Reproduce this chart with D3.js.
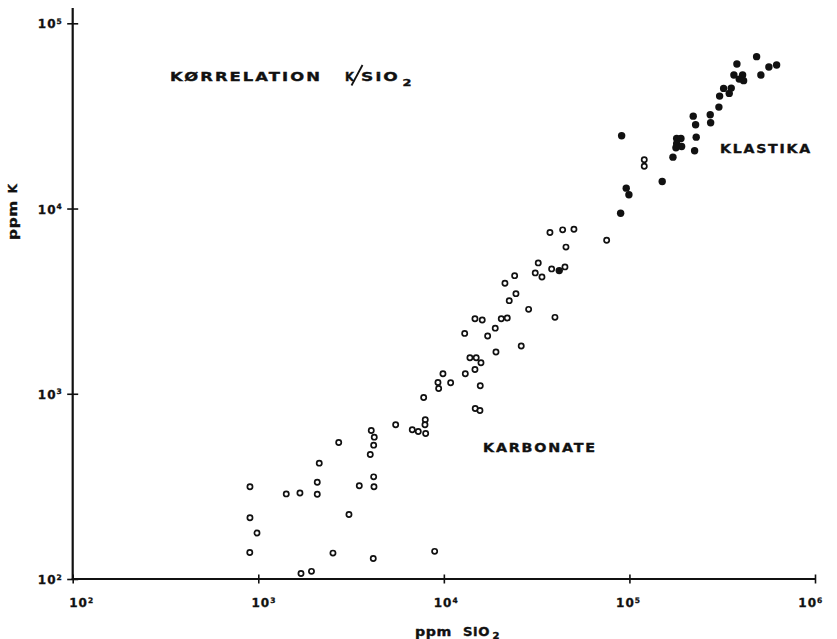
<!DOCTYPE html>
<html>
<head>
<meta charset="utf-8">
<script src="https://cdn.jsdelivr.net/npm/d3@7"></script>
<style>
  html, body { margin: 0; padding: 0; background: #fff; }
  svg { display: block; }
  text { font-family: "DejaVu Sans", sans-serif; font-weight: bold; fill: #111; }
</style>
</head>
<body>
<div id="chart"></div>
<script>
// --- Data (ppm SiO2, ppm K) ---
// Karbonate: open circles
const karbonateSiO2 = [
  902, 902, 984, 900, 1415, 1677, 1699, 1935, 2526, 4165,
  2131, 2079, 2079, 3502, 4186, 4202, 3081, 2713,
  4063, 4217, 4186, 4013, 5500, 6757, 7280, 7980, 7940, 7911, 7785, 8921,
  9295, 9376, 9890, 10880, 13050, 14760, 15650, 15710, 14710, 13820, 14940, 15850,
  12950, 17220, 18920, 19090, 26120, 14710, 16100, 20390, 21960, 22510, 28630, 39690,
  24460, 21340, 24070, 31080, 33780, 38090, 44930, 32260, 45500, 37300, 43670, 50230,
  75390, 120200, 120200
];
const karbonateK = [
  315, 214, 177, 139, 288, 291, 107, 110, 138, 129,
  422, 333, 287, 319, 356, 315, 223, 546,
  633, 583, 528, 470, 680, 639, 626, 610, 724, 680, 955, 141,
  1151, 1068, 1283, 1147, 1283, 833, 812, 1105, 1353, 1565, 1565, 1471,
  2118, 2051, 2260, 1681, 1810, 2543, 2502, 2543, 2566, 3182, 2856, 2585,
  3472, 3947, 4343, 4492, 4273, 4722, 4841, 5088, 6193, 7419, 7673, 7730,
  6740, 18340, 16930
];

// Klastika: filled circles
const klastikaSiO2 = [
  41860, 89660, 90780, 96120, 99380, 150200, 171600,
  179700, 189500, 179700, 191100, 178100,
  224500, 229000, 227300, 220700, 272500, 273900,
  303500, 306200, 321800, 345000, 353700, 365600, 379500,
  407300, 390500, 412400, 484500, 510900, 564300, 621000
];
const klastikaK = [
  4623, 9433, 24720, 12880, 11860, 13990, 18940,
  23900, 23900, 22370, 21630, 21280,
  20510, 24290, 28340, 31540, 32100, 29060,
  35290, 40460, 44520, 41840, 44690, 52550, 60260,
  52550, 49990, 49010, 66070, 52550, 58050, 59510
];

// Axis ticks (powers of ten)
const xTickExps = [2, 3, 4, 5, 6];
const yTickExps = [2, 3, 4, 5];

// --- Setup ---
const W = 837, H = 639;
const svg = d3.select("#chart").append("svg")
  .attr("width", W).attr("height", H);

const x = d3.scaleLog().domain([1e2, 1e6]).range([72.7, 815]);
const y = d3.scaleLog().domain([1e2, 1e5]).range([579, 23.3]);

const axisColor = "#111";

// writes "10" + raised exponent into a tick text
function powerLabel(t, exp) {
  t.text(null)
    .attr("font-size", 12)
    .attr("letter-spacing", 1)
    .attr("stroke", "#111").attr("stroke-width", 0.3);
  t.append("tspan").text("10");
  t.append("tspan").attr("dy", -4.5).attr("font-size", 7.5).text(exp);
}

// x axis
const xAxis = svg.append("g")
  .attr("transform", `translate(0,${y(1e2)})`)
  .call(d3.axisBottom(x)
    .tickValues(xTickExps.map(e => Math.pow(10, e)))
    .tickSize(4.5)
    .tickSizeOuter(0)
    .tickFormat(""));
xAxis.select(".domain").remove();
xAxis.selectAll(".tick line")
  .attr("y1", -4.5).attr("y2", 4.5)
  .attr("stroke", axisColor).attr("stroke-width", 1.6);
xAxis.selectAll(".tick text").each(function(d, i) {
  const t = d3.select(this)
    .attr("y", 28).attr("dy", null)
    .attr("x", -4 - 3.3 * i)
    .attr("text-anchor", "start");
  powerLabel(t, xTickExps[i]);
});

// y axis
const yAxis = svg.append("g")
  .attr("transform", `translate(${x(1e2)},0)`)
  .call(d3.axisLeft(y)
    .tickValues(yTickExps.map(e => Math.pow(10, e)))
    .tickSize(5.5)
    .tickSizeOuter(0)
    .tickFormat(""));
yAxis.select(".domain").remove();
yAxis.selectAll(".tick line")
  .attr("x1", -5.5).attr("x2", 5.5)
  .attr("stroke", axisColor).attr("stroke-width", 1.6);
yAxis.selectAll(".tick text").each(function(d, i) {
  const t = d3.select(this)
    .attr("x", -10).attr("dy", null).attr("y", 4.5)
    .attr("text-anchor", "end");
  powerLabel(t, yTickExps[i]);
});

// axis lines
svg.append("line")
  .attr("x1", x(1e2) - 1).attr("x2", x(1e6))
  .attr("y1", y(1e2)).attr("y2", y(1e2))
  .attr("stroke", axisColor).attr("stroke-width", 2.2);
svg.append("line")
  .attr("x1", x(1e2)).attr("x2", x(1e2))
  .attr("y1", y(1e2) + 1).attr("y2", 8)
  .attr("stroke", axisColor).attr("stroke-width", 2.2);

// --- Points ---
const karbonate = karbonateSiO2.map((v, i) => ({ sio2: v, k: karbonateK[i] }));
const klastika = klastikaSiO2.map((v, i) => ({ sio2: v, k: klastikaK[i] }));

svg.append("g").selectAll("circle")
  .data(karbonate)
  .join("circle")
  .attr("cx", d => x(d.sio2))
  .attr("cy", d => y(d.k))
  .attr("r", 2.6)
  .attr("fill", "#fff")
  .attr("stroke", "#111")
  .attr("stroke-width", 1.7);

svg.append("g").selectAll("circle")
  .data(klastika)
  .join("circle")
  .attr("cx", d => x(d.sio2))
  .attr("cy", d => y(d.k))
  .attr("r", 3.7)
  .attr("fill", "#111");

// --- Labels ---
// stretches a text horizontally so that it spans len pixels (wide lettering look)
function label(txt, px, py, len, size, ls, rot) {
  const t = svg.append("text")
    .attr("font-size", size || 12)
    .attr("letter-spacing", ls == null ? 1.5 : ls)
    .attr("stroke", "#111").attr("stroke-width", 0.35)
    .text(txt);
  const w = t.node().getComputedTextLength();
  t.attr("transform", `translate(${px},${py})${rot ? " rotate(" + rot + ")" : ""} scale(${len / w},1)`);
  return t;
}

// title
label("KØRRELATION", 170, 80.5, 152);
label("K", 345, 80.5, 9, 12, 0);
svg.append("line")
  .attr("x1", 351.5).attr("y1", 85.5)
  .attr("x2", 362.5).attr("y2", 65)
  .attr("stroke", "#111").attr("stroke-width", 1.8);
label("SiO", 361, 80.5, 39, 12, 1.5);
label("2", 402.5, 85.5, 9, 9, 0);

label("KARBONATE", 483, 451.5, 114, 12, 1.5);
label("KLASTIKA", 720, 152.5, 92, 12, 1.5);

// axis titles
label("ppm", 415, 635.5, 37, 12, 0.5);
label("SiO", 463, 635.5, 27, 12, 0.5);
label("2", 492.5, 638.5, 7, 8, 0);

label("ppm", 17, 240, 40, 12, 0.5, -90);
label("K", 17, 193.5, 9.5, 12, 0, -90);
</script>
</body>
</html>
